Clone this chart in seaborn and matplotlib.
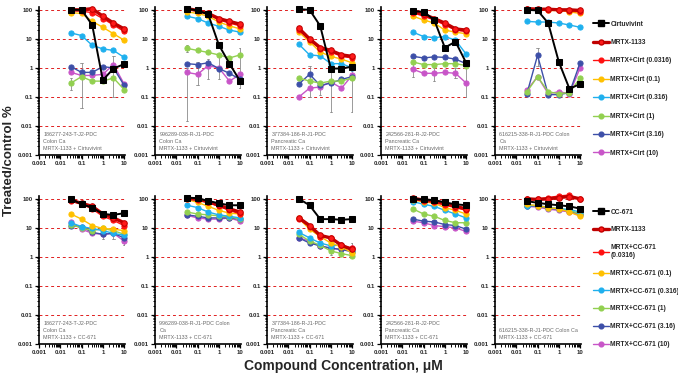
import numpy as np
import pandas as pd
import seaborn as sns
import matplotlib.pyplot as plt
from matplotlib.lines import Line2D
from matplotlib.ticker import LogLocator, FixedLocator, NullFormatter

# concentrations of MRTX-1133, uM
conc = [0.0316, 0.1, 0.316, 1, 3.16, 10]

top_series = ['Cirtuvivint', 'MRTX-1133', 'MRTX+Cirt (0.0316)', 'MRTX+Cirt (0.1)',
              'MRTX+Cirt (0.316)', 'MRTX+Cirt (1)', 'MRTX+Cirt (3.16)', 'MRTX+Cirt (10)']
bottom_series = ['CC-671', 'MRTX-1133', 'MRTX+CC-671\n(0.0316)', 'MRTX+CC-671 (0.1)',
                 'MRTX+CC-671 (0.316)', 'MRTX+CC-671 (1)', 'MRTX+CC-671 (3.16)',
                 'MRTX+CC-671 (10)']
colors = ['#000000', '#C00000', '#FF1010', '#FFC000', '#1FB0EE', '#92D050',
          '#3D4FA8', '#C855C8']

top_labels = [
    '186277-243-T-J2-PDC\nColon Ca\nMRTX-1133 + Cirtuvivint',
    '996289-038-R-J1-PDC\nColon Ca\nMRTX-1133 + Cirtuvivint',
    '377384-186-R-J1-PDC\nPancreatic Ca\nMRTX-1133 + Cirtuvivint',
    '242566-281-R-J2-PDC\nPancreatic Ca\nMRTX-1133 + Cirtuvivint',
    '616215-338-R-J1-PDC Colon\nCa\nMRTX-1133 + Cirtuvivint',
]
bottom_labels = [
    '186277-243-T-J2-PDC\nColon Ca\nMRTX-1133 + CC-671',
    '996289-038-R-J1-PDC Colon\nCa\nMRTX-1133 + CC-671',
    '377384-186-R-J1-PDC\nPancreatic Ca\nMRTX-1133 + CC-671',
    '242566-281-R-J2-PDC\nPancreatic Ca\nMRTX-1133 + CC-671',
    '616215-338-R-J1-PDC Colon Ca\nMRTX-1133 + CC-671',
]

# treated/control %, one row per series (same order as the series lists)
top_186277 = [[100, 100, 30, 0.38, 0.95, 1.35],
              [100, 100, 110, 60, 35, 22],
              [95, 90, 80, 50, 30, 18],
              [80, 75, 40, 25, 15, 9],
              [16, 13, 6, 4.5, 4, 2.3],
              [0.3, 0.5, 0.35, 0.35, 0.45, 0.18],
              [1.1, 0.7, 0.7, 1.1, 1.0, 0.25],
              [0.7, 0.55, 0.55, 0.6, 1.3, 0.28]]
top_996289 = [[110, 95, 70, 6.2, 1.4, 0.35],
              [110, 95, 75, 50, 40, 32],
              [105, 90, 70, 45, 35, 28],
              [85, 75, 60, 38, 28, 22],
              [60, 50, 35, 27, 20, 17],
              [4.7, 4.0, 3.4, 2.8, 2.2, 2.8],
              [1.4, 1.3, 1.5, 0.95, 0.65, 0.4],
              [0.7, 0.6, 1.2, 1.0, 0.35, 0.6]]
top_377384 = [[105, 100, 28, 0.95, 0.95, 1.1],
              [23, 10, 5, 4, 2.8, 2.5],
              [20, 9, 4.5, 3.5, 2.5, 2.2],
              [17, 8, 3.5, 2.5, 2.0, 1.5],
              [6.5, 2.8, 2.6, 1.4, 1.4, 1.0],
              [0.45, 0.35, 0.3, 0.35, 0.35, 0.45],
              [0.28, 0.6, 0.25, 0.3, 0.4, 0.5],
              [0.1, 0.2, 0.22, 0.33, 0.2, 0.55]]
top_242566 = [[90, 85, 45, 5, 8, 1.5],
              [90, 70, 50, 35, 22, 20],
              [80, 60, 45, 30, 20, 18],
              [60, 45, 35, 20, 17, 15],
              [17, 12, 11, 12, 9, 3],
              [1.6, 1.3, 1.3, 1.4, 1.4, 1.2],
              [2.5, 2.2, 2.4, 2.3, 2.0, 1.4],
              [0.9, 0.65, 0.65, 0.7, 0.65, 0.3]]
top_616215 = [[100, 95, 35, 1.6, 0.19, 0.28],
              [110, 105, 105, 100, 100, 95],
              [105, 100, 100, 95, 90, 85],
              [100, 100, 95, 95, 85, 75],
              [40, 38, 38, 35, 30, 25],
              [0.15, 0.5, 0.15, 0.13, 0.14, 0.45],
              [0.13, 2.7, 0.12, 0.12, 0.14, 1.5],
              [0.17, 0.5, 0.13, 0.15, 0.13, 1.0]]

bottom_186277 = [[100, 65, 50, 30, 28, 32],
                 [90, 70, 55, 30, 22, 15],
                 [85, 65, 45, 25, 18, 12],
                 [30, 20, 12, 9.5, 9, 8],
                 [15, 11, 9.5, 8, 6.5, 5.5],
                 [13, 10, 8, 9.5, 8, 6],
                 [12, 11, 7, 6, 6.5, 4.5],
                 [16, 9, 6.5, 6, 6.5, 3.5]]
bottom_996289 = [[110, 105, 85, 70, 60, 60],
                 [105, 95, 80, 60, 45, 35],
                 [100, 90, 75, 55, 40, 30],
                 [95, 75, 55, 40, 32, 30],
                 [60, 50, 35, 28, 25, 22],
                 [35, 30, 28, 26, 24, 20],
                 [28, 25, 22, 22, 22, 20],
                 [27, 22, 20, 20, 22, 17]]
bottom_377384 = [[100, 60, 20, 20, 19, 20],
                 [22, 12, 5.5, 4.5, 2.5, 1.8],
                 [20, 11, 5, 4.5, 2.5, 2.0],
                 [21, 9, 5, 3, 2.2, 1.4],
                 [7, 4.5, 3, 2.4, 2.6, 1.6],
                 [6, 3.5, 2.5, 1.6, 1.3, 1.1],
                 [4.5, 3, 2.4, 2, 1.8, 1.5],
                 [4.5, 3.5, 2.3, 2, 1.8, 2.1]]
bottom_242566 = [[100, 95, 90, 75, 65, 60],
                 [105, 90, 85, 70, 55, 45],
                 [95, 85, 75, 60, 50, 40],
                 [90, 80, 70, 50, 40, 30],
                 [80, 65, 55, 40, 30, 22],
                 [45, 30, 25, 18, 15, 15],
                 [20, 17, 16, 13, 12, 9],
                 [17, 15, 12, 11, 10, 7.5]]
bottom_616215 = [[83, 73, 65, 60, 55, 46],
                 [100, 95, 100, 110, 120, 100],
                 [95, 100, 110, 125, 135, 95],
                 [64, 58, 50, 45, 35, 25],
                 [57, 60, 50, 45, 43, 35],
                 [62, 57, 50, 47, 40, 30],
                 [58, 55, 48, 43, 38, 30],
                 [55, 52, 44, 40, 35, 27]]

# error bars: (panel, x, low, high)
top_err = [(0, 0.0316, 0.18, 0.45), (0, 0.1, 0.04, 1.5), (0, 1, 0.3, 0.6),
           (0, 3.16, 0.1, 2.5), (1, 0.0316, 0.015, 1.0), (1, 0.0316, 3.5, 6),
           (1, 0.1, 0.25, 1.6), (1, 0.316, 0.4, 2.0), (1, 1, 0.4, 2.5),
           (1, 10, 0.2, 5), (2, 0.1, 0.1, 1.2), (2, 0.316, 0.12, 0.35),
           (2, 1, 0.03, 0.7), (2, 10, 0.03, 0.8), (3, 0.0316, 0.5, 1.5),
           (3, 0.316, 0.35, 1.0), (3, 3.16, 0.45, 1.0), (3, 10, 0.1, 1.2),
           (4, 0.1, 1.2, 5)]
bottom_err = [(0, 1, 4, 8), (0, 3.16, 4, 8), (0, 10, 2.5, 5),
              (2, 1, 1.2, 2.5), (2, 10, 1.0, 3.0)]

top_data = [top_186277, top_996289, top_377384, top_242566, top_616215]
bottom_data = [bottom_186277, bottom_996289, bottom_377384, bottom_242566, bottom_616215]

rows = []
for row, (names, panels) in enumerate([(top_series, top_data), (bottom_series, bottom_data)]):
    for p, table in enumerate(panels):
        for k, vals in enumerate(table):
            for c, v in zip(conc, vals):
                rows.append((row, p, k, names[k], c, v))
df = pd.DataFrame(rows, columns=['row', 'panel', 'k', 'series', 'conc', 'pct'])

sns.set_theme(style='ticks')
plt.rcParams['font.family'] = ['Liberation Sans', 'DejaVu Sans']

fig = plt.figure(figsize=(6.78, 3.75), dpi=100)
W, H = 678, 375
lefts = [39, 155, 267, 381, 495]
tops = [7, 196]
pw, ph = 86, 148


def style_axes(ax):
    ax.set_xscale('log')
    ax.set_yscale('log')
    ax.set_xlim(0.001, 11)
    ax.set_ylim(0.001, 125)
    for yv in [0.01, 0.1, 1, 10, 100]:
        ax.axhline(yv, color='#E02020', lw=0.7, ls=(0, (3, 3)), zorder=0)
    ax.xaxis.set_major_locator(FixedLocator([0.001, 0.01, 0.1, 1, 10]))
    ax.yaxis.set_major_locator(FixedLocator([0.001, 0.01, 0.1, 1, 10, 100]))
    ax.set_xticklabels(['0.001', '0.01', '0.1', '1', '10'])
    ax.set_yticklabels(['0.001', '0.01', '0.1', '1', '10', '100'])
    ax.xaxis.set_minor_locator(LogLocator(base=10, subs=np.arange(2, 10), numticks=20))
    ax.yaxis.set_minor_locator(LogLocator(base=10, subs=np.arange(2, 10), numticks=20))
    ax.xaxis.set_minor_formatter(NullFormatter())
    ax.yaxis.set_minor_formatter(NullFormatter())
    ax.tick_params(which='major', length=3, width=0.9, labelsize=4.3, pad=1.5,
                   color='black')
    ax.tick_params(which='minor', length=1.8, width=0.7, color='black')
    for lab in ax.get_xticklabels() + ax.get_yticklabels():
        lab.set_fontweight('bold')
    for s in ['top', 'right']:
        ax.spines[s].set_visible(False)
    for s in ['left', 'bottom']:
        ax.spines[s].set_linewidth(1.2)
        ax.spines[s].set_color('black')
    ax.set_xlabel('')
    ax.set_ylabel('')
    ax.grid(False)


for row in range(2):
    names = top_series if row == 0 else bottom_series
    texts = top_labels if row == 0 else bottom_labels
    errs = top_err if row == 0 else bottom_err
    for p in range(5):
        ax = fig.add_axes([lefts[p] / W, 1 - (tops[row] + ph) / H, pw / W, ph / H])
        for x, lo, hi in [(e[1], e[2], e[3]) for e in errs if e[0] == p]:
            ax.plot([x, x], [lo, hi], color='#8A8A8A', lw=0.6, zorder=1)
            ax.plot([x * 0.88, x * 1.14], [lo, lo], color='#8A8A8A', lw=0.6, zorder=1)
            ax.plot([x * 0.88, x * 1.14], [hi, hi], color='#8A8A8A', lw=0.6, zorder=1)
        for k in [7, 6, 5, 4, 3, 2, 1, 0]:
            sub = df[(df['row'] == row) & (df['panel'] == p) & (df['k'] == k)]
            if k == 0:
                kw = dict(marker='s', markersize=4.4, linewidth=1.4,
                          markeredgecolor='black')
            elif k == 1:
                kw = dict(marker='o', markersize=4.0, linewidth=2.4,
                          markerfacecolor='#FF1A1A', markeredgecolor='#C00000')
            else:
                kw = dict(marker='o', markersize=3.7, linewidth=1.0,
                          markeredgecolor=colors[k])
            sns.lineplot(data=sub, x='conc', y='pct', color=colors[k], ax=ax,
                         legend=False, zorder=4 if k == 0 else 3 + (8 - k) * 0.1,
                         clip_on=False, **kw)
        style_axes(ax)
        ax.text(0.0016, 0.00135, texts[p], fontsize=3.9, color='#6A6A6A',
                va='bottom', ha='left', linespacing=1.55, zorder=5)

    handles = []
    for k, name in enumerate(names):
        if k == 0:
            h = Line2D([], [], color='black', marker='s', markersize=3.8, lw=1.4)
        elif k == 1:
            h = Line2D([], [], color='#C00000', marker='o', markersize=3.6, lw=2.4,
                       markerfacecolor='#FF1A1A', markeredgecolor='#C00000')
        else:
            h = Line2D([], [], color=colors[k], marker='o', markersize=3.4, lw=1.0)
        handles.append(h)
    leg = fig.legend(handles, names, loc='upper left',
                     bbox_to_anchor=(593 / W, 1 - (20.5 if row == 0 else 208.5) / H),
                     frameon=False, fontsize=4.8,
                     labelspacing=1.72 if row == 0 else 1.62,
                     handlelength=2.4, handletextpad=0.2, borderpad=0,
                     borderaxespad=0)
    for t in leg.get_texts():
        t.set_fontweight('bold')

fig.text(9 / W, 1 - 161 / H, 'Treated/control %', rotation=90, fontsize=9.5,
         fontweight='bold', ha='center', va='center')
fig.text(343 / W, 1 - 366 / H, 'Compound Concentration, \u03bcM', fontsize=10,
         fontweight='bold', ha='center', va='center')

fig.savefig('out.png', dpi=100)
